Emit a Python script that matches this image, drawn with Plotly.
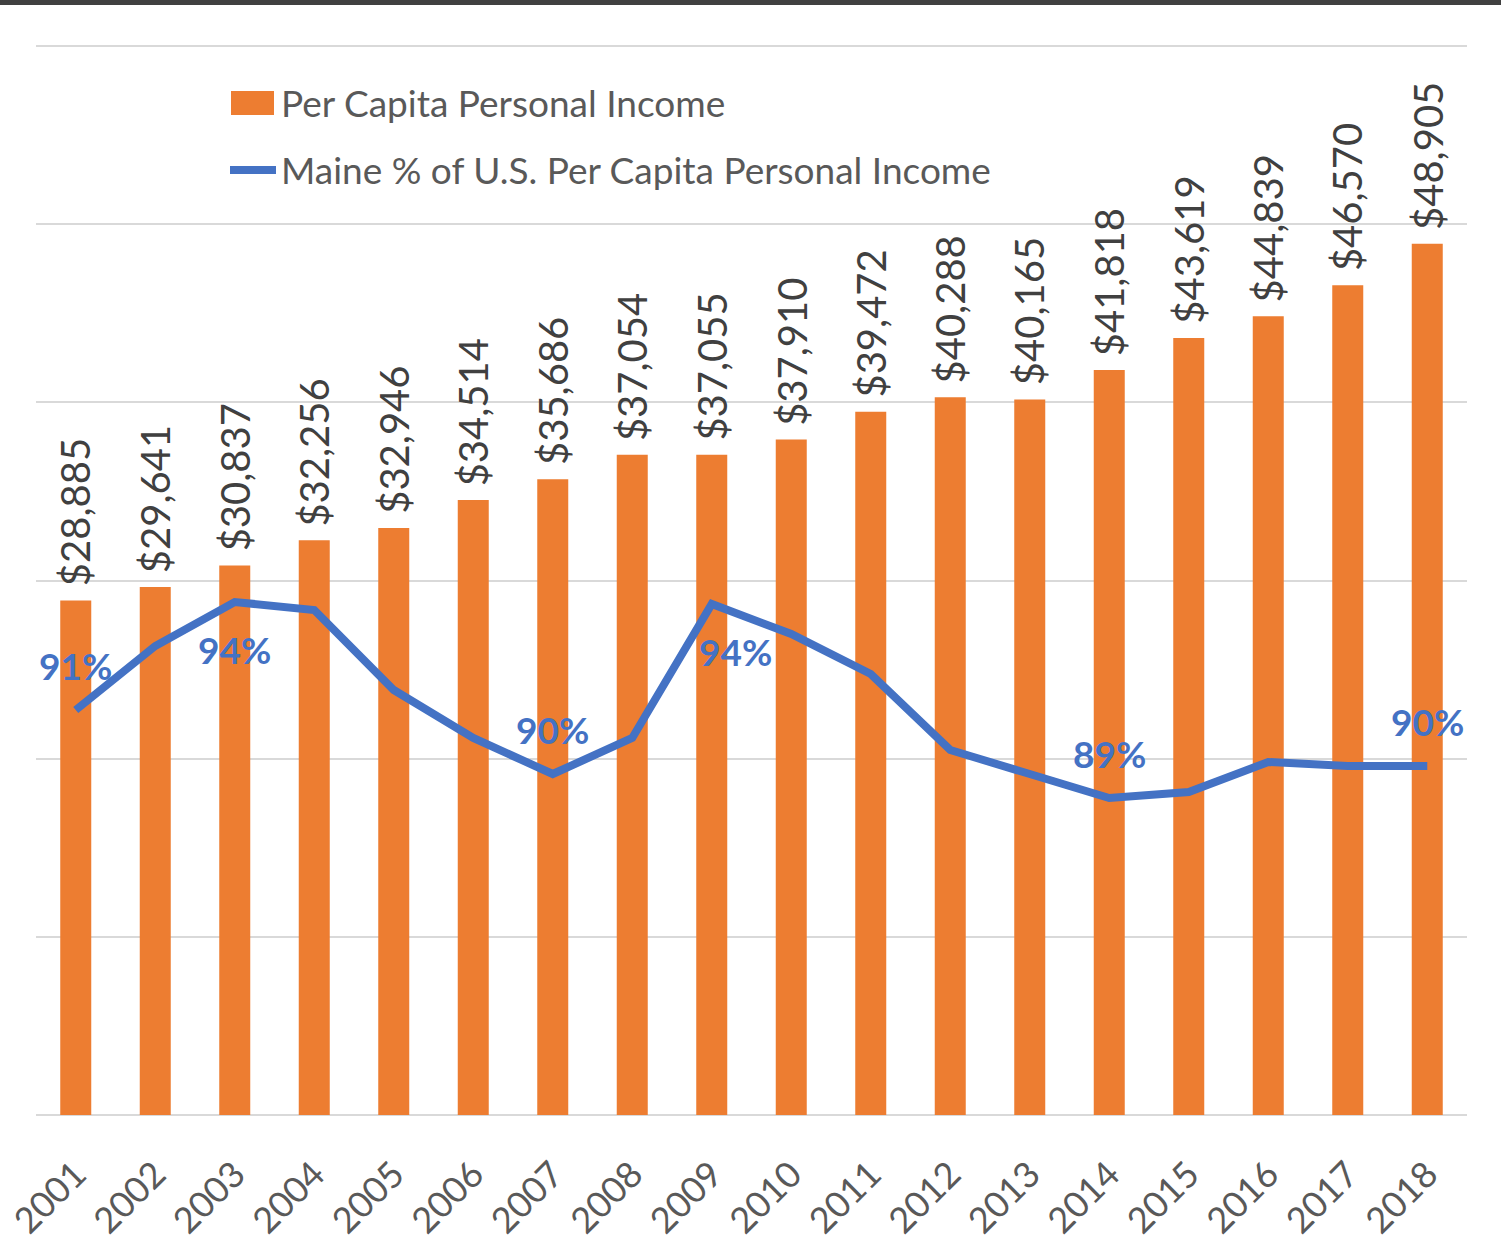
import plotly.graph_objects as go

years = [str(y) for y in range(2001, 2019)]
income = [28885, 29641, 30837, 32256, 32946, 34514, 35686, 37054, 37055,
          37910, 39472, 40288, 40165, 41818, 43619, 44839, 46570, 48905]
pct_of_us = [91.2, 92.8, 93.9, 93.7, 91.7, 90.5, 89.6, 90.5, 93.85,
             93.1, 92.1, 90.2, 89.6, 89.0, 89.15, 89.9, 89.8, 89.8]
labelled_years = ["2001", "2003", "2007", "2009", "2014", "2018"]
label_below = ["2003", "2009"]

ORANGE = "#ED7D31"
BLUE = "#4472C4"
GRID = "#D9D9D9"
FONT = "Lato"

W, H = 1501, 1249
L, R, T, B = 36, 34, 45, 134
PW, PH = W - L - R, H - T - B


def px_x(px):
    return (px - L) / PW


def px_y(py):
    return (H - B - py) / PH


fig = go.Figure()
fig.add_trace(go.Bar(
    x=years, y=income, name="Per Capita Personal Income",
    marker=dict(color=ORANGE, line=dict(width=0)),
    width=0.39,
))
fig.add_trace(go.Scatter(
    x=years, y=pct_of_us, yaxis="y2", mode="lines",
    name="Maine % of U.S. Per Capita Personal Income",
    line=dict(color=BLUE, width=8),
))

annotations = []
# bar data labels
for i, v in enumerate(income):
    annotations.append(dict(
        x=i, y=v, xref="x", yref="y", text=f"${v:,}", textangle=-90,
        showarrow=False, xanchor="center", yanchor="bottom", yshift=12,
        font=dict(family=FONT, size=40, color="#404040"),
    ))
# percentage labels
for i, (yr, v) in enumerate(zip(years, pct_of_us)):
    if yr in labelled_years:
        below = yr in label_below
        annotations.append(dict(
            x=i, y=v, xref="x", yref="y2", text=f"{round(v)}%",
            showarrow=False, yshift=-47 if below else 45,
            xshift=24 if yr == "2009" else 0,
            font=dict(family=FONT, size=37, color=BLUE, weight="bold"),
        ))

# legend (custom)
annotations.append(dict(x=px_x(279), y=px_y(103), xref="paper", yref="paper",
                        text="Per Capita Personal Income", showarrow=False,
                        xanchor="left", yanchor="middle",
                        font=dict(family=FONT, size=37, color="#595959")))
annotations.append(dict(x=px_x(279), y=px_y(170), xref="paper", yref="paper",
                        text="Maine % of U.S. Per Capita Personal Income", showarrow=False,
                        xanchor="left", yanchor="middle",
                        font=dict(family=FONT, size=37, color="#595959")))

shapes = [
    dict(type="rect", xref="paper", yref="paper",
         x0=px_x(231), x1=px_x(274), y0=px_y(115), y1=px_y(91),
         fillcolor=ORANGE, line=dict(width=0)),
    dict(type="line", xref="paper", yref="paper",
         x0=px_x(230), x1=px_x(276), y0=px_y(170), y1=px_y(170),
         line=dict(color=BLUE, width=8)),
    dict(type="rect", xref="paper", yref="paper",
         x0=px_x(0), x1=px_x(W), y0=px_y(5), y1=px_y(0),
         fillcolor="#404040", line=dict(width=0)),
]

fig.update_layout(
    width=W, height=H,
    margin=dict(l=L, r=R, t=T, b=B),
    paper_bgcolor="white", plot_bgcolor="white",
    showlegend=False,
    bargap=0.61,
    xaxis=dict(type="category", tickangle=-45, range=[-0.5, len(years) - 0.5],
               tickfont=dict(family=FONT, size=36, color="#595959"),
               ticklabelstandoff=30,
               showgrid=False, showline=False, ticks="", automargin=False),
    yaxis=dict(range=[0, 60060], tick0=0, dtick=10000, showgrid=True, gridcolor=GRID,
               gridwidth=2, zeroline=True, zerolinecolor=GRID, zerolinewidth=2,
               showticklabels=False, automargin=False),
    yaxis2=dict(range=[81.075, 107.825], overlaying="y", side="right",
                showgrid=False, zeroline=False, showticklabels=False,
                automargin=False),
    annotations=annotations,
    shapes=shapes,
)

fig.write_html("out.html", config={"displayModeBar": False},
               post_script="document.body.style.margin='0';document.body.style.overflow='hidden';")
